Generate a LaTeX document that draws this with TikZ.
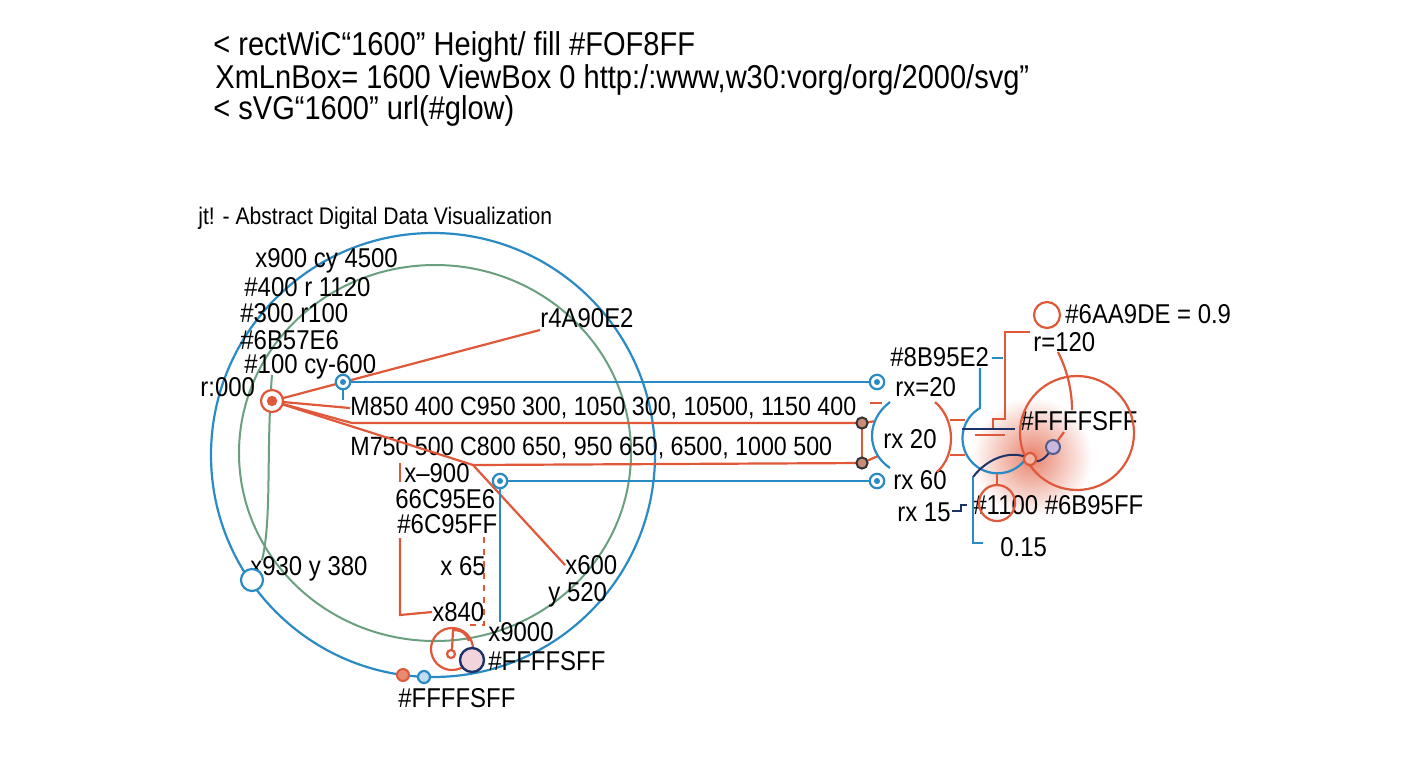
\documentclass[tikz,border=0pt]{standalone}
\usepackage{fontspec}
\setmainfont{Liberation Sans}[FakeStretch=0.88]
\usepackage{xcolor}
\definecolor{vizblue}{RGB}{42,138,196}
\definecolor{vizgreen}{RGB}{106,159,128}
\definecolor{vizred}{RGB}{224,88,58}
\definecolor{viznavy}{RGB}{30,52,104}
\definecolor{vizpink}{RGB}{242,212,220}
\definecolor{vizlilac}{RGB}{201,184,222}
\definecolor{vizdot}{RGB}{200,140,120}

\tikzset{
  hdr/.style={anchor=west, inner sep=0pt, font=\fontsize{16.5}{18}\selectfont},
  ttl/.style={anchor=west, inner sep=0pt, font=\fontsize{12}{14}\selectfont},
  lbl/.style={anchor=west, inner sep=0pt, font=\fontsize{13.6}{15}\selectfont},
  mlbl/.style={anchor=west, inner sep=0pt, font=\fontsize{13.2}{15}\selectfont},
  bline/.style={vizblue, line width=1.1pt},
  gline/.style={vizgreen, line width=1pt},
  rline/.style={vizred, line width=1.1pt},
  nline/.style={viznavy, line width=1pt}
}

\begin{document}
\begin{tikzpicture}[x=0.5pt, y=-0.5pt]
\useasboundingbox (0,0) rectangle (1408,768);
\fill[white] (0,0) rectangle (1408,768);

% Glow behind the right cluster
\shade[inner color=vizred!75, outer color=white] (1032,457) circle (30pt);

% Header text
\node[hdr] (head1) at (213,47) {< rectWiC“1600” Height/ fill \#FOF8FF};
\node[hdr] (head2) at (215,80) {XmLnBox= 1600 ViewBox 0 http:/:www,w30:vorg/org/2000/svg”};
\node[hdr] (head3) at (213,111) {< sVG“1600” url(\#glow)};
\node[ttl] (title) at (198,218) {jt! - Abstract Digital Data Visualization};

% Rings
\draw[bline] (433,455) circle (111pt);
\draw[gline] (435,453) ellipse [x radius=98pt, y radius=94pt];
\draw[gline] (272,375) .. controls (266,450) and (272,520) .. (262,560);

% Left labels
\node[lbl] (cx900) at (255,261) {x900 cy 4500};
\node[lbl] (c400) at (244,287) {\#400 r 1120};
\node[lbl] (c300) at (240,313) {\#300 r100};
\node[lbl] (c6b) at (240,340) {\#6B57E6};
\node[lbl] (c100) at (244,367) {\#100 cy-600};
\node[lbl] (r000) at (200,387) {r:000};
\node[lbl] (r4a) at (540,318) {r4A90E2};
\node[mlbl] (mpath1) at (350,408) {M850 400 C950 300, 1050 300, 10500, 1150 400};
\node[mlbl] (mpath2) at (350,448) {M750 500 C800 650, 950 650, 6500, 1000 500};
\node[lbl] (x900) at (404,473) {x–900};
\node[lbl] (c66) at (395,499) {66C95E6};
\node[lbl] (c6c) at (397,524) {\#6C95FF};
\node[lbl] (x65) at (440,566) {x 65};
\node[lbl] (x840) at (432,612) {x840};
\node[lbl] (x600) at (565,565) {x600};
\node[lbl] (y520) at (548,595) {y 520};
\node[lbl] (x9000) at (488,632) {x9000};
\node[lbl] (ffa) at (488,661) {\#FFFFSFF};
\node[lbl] (ffb) at (398,698) {\#FFFFSFF};
\node[lbl] (x930) at (250,569) {x930 y 380};

% Hub and red connectors
\coordinate (hub) at (272,401);
\coordinate (hubm) at (352,423);
\coordinate (hubd) at (473,465);
\coordinate (dotA) at (862,423);
\coordinate (dotB) at (862,463);
\draw[rline] (hub) -- (540,330);
\draw[rline] (hub) -- (mpath1.west);
\draw[rline] (hub) -- (hubm) -- (dotA);
\draw[rline] (hub) -- (hubd) -- (x600.west);
\draw[rline] (hubd) -- (dotB);
\draw[rline] (dotA) -- (dotB);
\draw[rline] (870,403) -- (882,403);
\draw[rline] (dotA) -- (876,421);
\draw[rline] (dotB) -- (878,456);
\draw[rline, fill=white] (hub) circle (5.5pt);
\fill[vizred] (hub) circle (2.6pt);
\foreach \d in {dotA,dotB} {
  \draw[black!80, line width=1pt, fill=vizdot] (\d) circle (2.8pt);
}

% Red brackets
\draw[rline] (400,463) -- (400,482);
\draw[rline] (400,538) -- (400,615) -- (x840.west);
\draw[rline, dashed] (484,537) -- (484,625) -- (468,625);

% Blue connectors
\coordinate (bA) at (343,382);
\coordinate (bB) at (877,382);
\coordinate (bC) at (500,481);
\coordinate (bD) at (877,481);
\draw[bline] (bA) -- (bB);
\draw[bline] (bC) -- (bD);
\draw[bline] (bA) -- (343,400);
\draw[bline] (bC) -- (500,622);
\foreach \p in {bA,bB,bC,bD} {
  \draw[bline, fill=white] (\p) circle (3.6pt);
  \fill[vizblue] (\p) circle (1.5pt);
}
\draw[bline, fill=white] (252,580) circle (5.5pt);

% Bottom cluster
\draw[rline] (452,649) circle (10.5pt);
\draw[rline] (452,650) -- (453,630) .. controls (462,630) and (467,634) .. (469,641);
\draw[rline, fill=white] (451,654) circle (2pt);
\draw[viznavy, line width=1.2pt, fill=vizpink] (472,660) circle (6pt);
\draw[vizred, line width=1pt, fill=vizred!70] (403,675) circle (3pt);
\draw[bline, fill=vizblue!30] (424,677) circle (3pt);

% Right labels
\node[lbl] (rx20a) at (895,387) {rx=20};
\node[lbl] (rx20b) at (883,439) {rx 20};
\node[lbl] (rx60) at (893,480) {rx 60};
\node[lbl] (rx15) at (897,512) {rx 15};
\node[lbl] (c8b) at (890,357) {\#8B95E2};
\node[lbl] (r120) at (1033,342) {r=120};
\node[lbl] (c6aa) at (1065,314) {\#6AA9DE = 0.9};
\node[lbl] (ffc) at (1020,421) {\#FFFFSFF};
\node[lbl] (c1100) at (973,505) {\#1100 \#6B95FF};
\node[lbl] (v015) at (1000,547) {0.15};

% Right cluster shapes
\draw[bline] (890,402) .. controls (866,420) and (866,452) .. (890,468);
\draw[rline] (935,402) .. controls (956,420) and (956,455) .. (937,472);
\draw[rline] (950,420) -- (965,420);
\draw[rline] (950,455) -- (965,455);
\draw[bline] (992,358) -- (1003,358);
\draw[bline] (980,368) -- (980,408) arc[start angle=120, end angle=320, radius=17.5pt];
\draw[rline] (1077,433) circle (28.5pt);
\draw[rline] (1047,315) circle (6.5pt);
\draw[rline] (1030,332) -- (1005,332) -- (1005,419) -- (993,419) -- (993,428);
\draw[nline] (962,429) -- (1015,429);
\draw[rline] (975,435) -- (1005,435);
\draw[rline] (1058,352) .. controls (1068,372) and (1072,392) .. (1072,410);
\draw[rline] (997,474) -- (997,485);
\draw[rline] (997,503) circle (9pt);
\draw[nline] (973,477) .. controls (990,455) and (1015,450) .. (1030,459)
  .. controls (1040,466) and (1048,455) .. (1053,447);
\draw[bline] (973,477) -- (973,543) -- (983,543);
\draw[nline] (952,511) -- (961,511) -- (961,505) -- (967,505);
\draw[rline] (1053,447) -- (1064,432);
\draw[vizred, line width=1.1pt, fill=vizred!45] (1030,459) circle (3pt);
\draw[viznavy!70!vizlilac, line width=1pt, fill=vizlilac] (1053,447) circle (3.5pt);
\end{tikzpicture}
\end{document}
